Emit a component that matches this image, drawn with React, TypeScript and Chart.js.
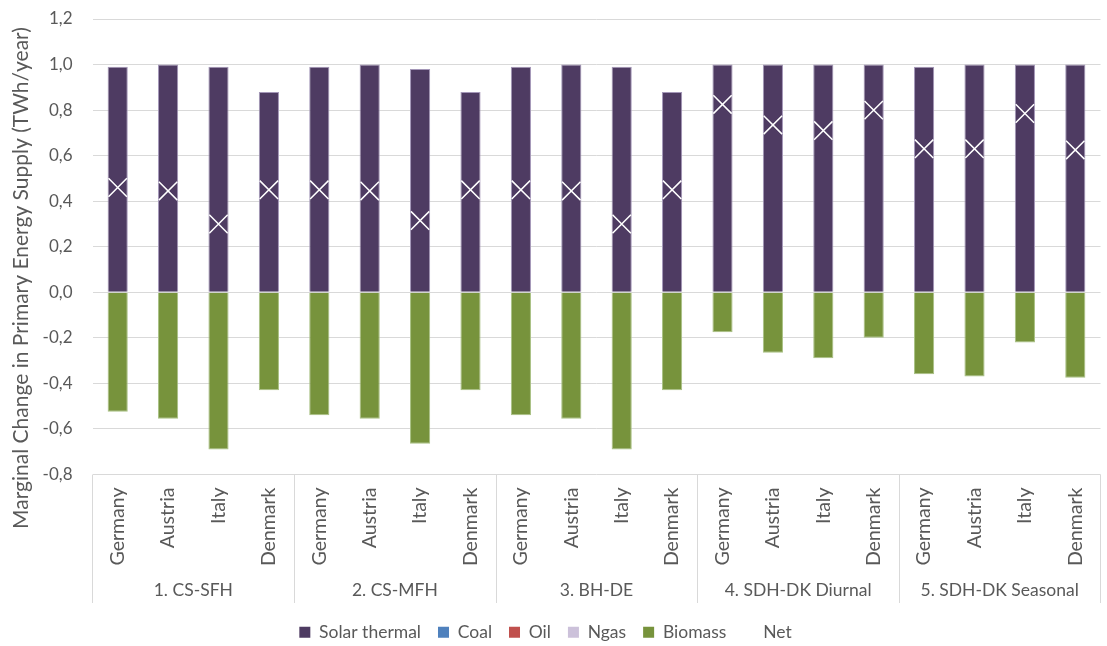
import React, { useEffect, useRef } from "react";
import { Chart, registerables } from "chart.js";

Chart.register(...registerables);

const groups = ["1. CS-SFH", "2. CS-MFH", "3. BH-DE", "4. SDH-DK Diurnal", "5. SDH-DK Seasonal"];
const countries = ["Germany", "Austria", "Italy", "Denmark"];
const categories = groups.flatMap(() => countries);

const solarThermal = [0.99, 1.0, 0.99, 0.88, 0.99, 1.0, 0.98, 0.88, 0.99, 1.0, 0.99, 0.88, 1.0, 1.0, 1.0, 1.0, 0.99, 1.0, 1.0, 1.0];
const coal = [0, 0, 0, 0, 0, 0, 0, 0, 0, 0, 0, 0, 0, 0, 0, 0, 0, 0, 0, 0];
const oil = [0, 0, 0, 0, 0, 0, 0, 0, 0, 0, 0, 0, 0, 0, 0, 0, 0, 0, 0, 0];
const ngas = [0, 0, 0, 0, 0, 0, 0, 0, 0, 0, 0, 0, 0, 0, 0, 0, 0, 0, 0, 0];
const biomass = [-0.525, -0.555, -0.69, -0.43, -0.54, -0.555, -0.665, -0.43, -0.54, -0.555, -0.69, -0.43, -0.175, -0.265, -0.29, -0.2, -0.36, -0.37, -0.22, -0.375];
const net = [0.46, 0.445, 0.3, 0.45, 0.45, 0.445, 0.315, 0.45, 0.45, 0.445, 0.3, 0.45, 0.825, 0.735, 0.71, 0.8, 0.63, 0.63, 0.785, 0.625];

const yMin = -0.8;
const yMax = 1.2;
const yStep = 0.2;
const yTitle = "Marginal Change in Primary Energy Supply (TWh/year)";

const K = 24; // canvas left offset (px hidden on left)
const CW = 1115 + K;
const CH = 651;
const FONT = "Lato, 'Open Sans', sans-serif";
const TXT = "#595959";

const decorations = {
  id: "decorations",
  afterDraw(chart: any) {
    const { ctx, chartArea } = chart;
    const x = chart.scales.x;
    const step = x.getPixelForValue(1) - x.getPixelForValue(0);
    ctx.save();
    ctx.strokeStyle = "#D9D9D9";
    ctx.lineWidth = 1;
    for (let g = 0; g <= groups.length; g++) {
      const px = Math.round(x.getPixelForValue(g * 4) - step / 2) + 0.5;
      ctx.beginPath();
      ctx.moveTo(px, chartArea.bottom);
      ctx.lineTo(px, 603);
      ctx.stroke();
    }
    ctx.fillStyle = TXT;
    ctx.font = `17.5px ${FONT}`;
    ctx.textAlign = "center";
    ctx.textBaseline = "middle";
    groups.forEach((g, i) => {
      const cx = (x.getPixelForValue(i * 4 + 1) + x.getPixelForValue(i * 4 + 2)) / 2;
      ctx.fillText(g, cx, 590);
    });
    ctx.font = `21px ${FONT}`;
    ctx.translate(21 + K, 278);
    ctx.rotate(-Math.PI / 2);
    ctx.fillText(yTitle, 0, 0);
    ctx.restore();
  },
};

export default function App() {
  const ref = useRef<HTMLCanvasElement>(null);
  useEffect(() => {
    if (!ref.current) return;
    const chart = new Chart(ref.current, {
      type: "bar",
      data: {
        labels: categories,
        datasets: [
          { label: "Solar thermal", data: solarThermal, backgroundColor: "#4E3B62", borderColor: "#A497B8", borderWidth: 1, order: 1 },
          { label: "Coal", data: coal, backgroundColor: "#4F81BD", borderWidth: 0, order: 1 },
          { label: "Oil", data: oil, backgroundColor: "#C0504D", borderWidth: 0, order: 1 },
          { label: "Ngas", data: ngas, backgroundColor: "#CCC1DA", borderWidth: 0, order: 1 },
          { label: "Biomass", data: biomass, backgroundColor: "#77933C", borderColor: "#A9C184", borderWidth: 1, order: 1 },
          {
            type: "line",
            label: "Net",
            data: net,
            stack: "net",
            showLine: false,
            order: 0,
            backgroundColor: "rgba(255,255,255,0)",
            borderColor: "#FFFFFF",
            borderWidth: 1.5,
            pointStyle: "crossRot",
            pointRadius: 13,
            pointBorderColor: "#FFFFFF",
            pointBorderWidth: 1.5,
            pointBackgroundColor: "rgba(255,255,255,0)",
          } as any,
        ],
      },
      options: {
        responsive: false,
        animation: false,
        devicePixelRatio: 1,
        layout: { padding: { top: 19, left: 0, right: 0, bottom: 0 } },
        datasets: { bar: { categoryPercentage: 1, barPercentage: 0.4 } } as any,
        scales: {
          x: {
            stacked: true,
            grid: { display: false, drawTicks: false },
            border: { display: false },
            ticks: {
              autoSkip: false,
              maxRotation: 90,
              minRotation: 90,
              padding: 13,
              color: TXT,
              font: { family: FONT, size: 19.5 },
            },
            afterFit: (s: any) => {
              s.height = 132;
            },
          },
          y: {
            stacked: true,
            min: yMin,
            max: yMax,
            grid: { color: "#D9D9D9", drawTicks: true, tickLength: 20, tickColor: "rgba(0,0,0,0)" },
            border: { display: false },
            ticks: {
              stepSize: yStep,
              padding: 0,
              color: TXT,
              font: { family: FONT, size: 17 },
              callback: (v: any) => (Math.round(Number(v) * 10) / 10).toFixed(1).replace(".", ","),
            },
            afterFit: (s: any) => {
              s.width = 92.5 + K;
            },
          },
        },
        plugins: {
          tooltip: { enabled: false },
          legend: {
            position: "bottom",
            labels: {
              color: TXT,
              font: { family: FONT, size: 17.5 },
              boxWidth: 11,
              boxHeight: 11,
              padding: 17,
              sort: (a: any, b: any) => a.datasetIndex - b.datasetIndex,
              generateLabels: (c: any) =>
                Chart.defaults.plugins.legend.labels.generateLabels(c).map((l: any) => ({
                  ...l,
                  lineWidth: l.text === "Net" ? 1 : 0,
                })),
            },
          },
        },
      },
      plugins: [decorations],
    });
    return () => chart.destroy();
  }, []);
  return (
    <div style={{ position: "absolute", left: 0, top: 0, width: 1107, height: 646, overflow: "hidden", background: "#fff" }}>
      <canvas ref={ref} width={CW} height={CH} style={{ position: "absolute", left: -K, top: 0, width: CW, height: CH }} />
    </div>
  );
}
